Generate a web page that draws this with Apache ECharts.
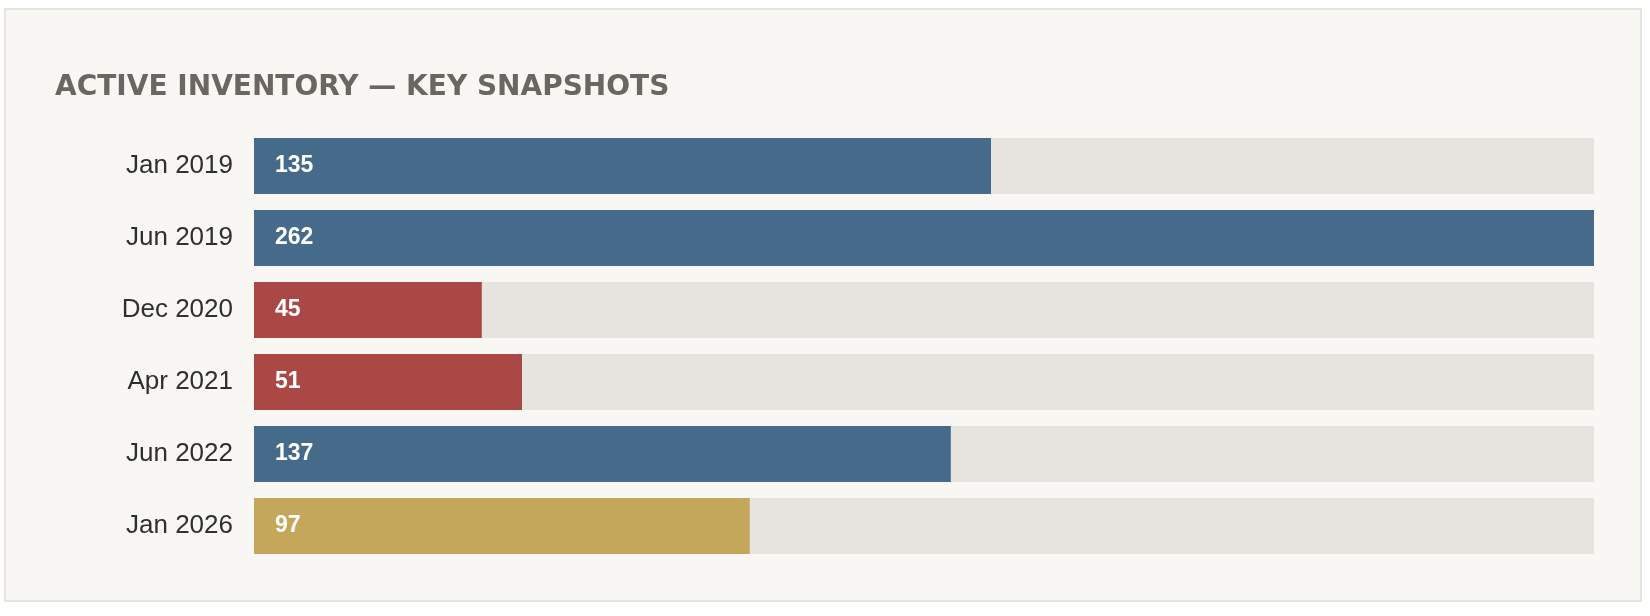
<!DOCTYPE html>
<html>
<head>
<meta charset="utf-8">
<script src="https://cdn.jsdelivr.net/npm/echarts@6/dist/echarts.min.js"></script>
<style>
html,body{margin:0;padding:0;background:#ffffff;}
#chart{width:1650px;height:616px;}
</style>
</head>
<body>
<div id="chart"></div>
<script>
const titleText = 'ACTIVE INVENTORY — KEY SNAPSHOTS';
const categories = ['Jan 2019', 'Jun 2019', 'Dec 2020', 'Apr 2021', 'Jun 2022', 'Jan 2026'];
const valueLabels = [135, 262, 45, 51, 137, 97];
const barWidthPct = [55, 100, 17, 20, 52, 37];
const trackPct = [100, 100, 100, 100, 100, 100];
const barColors = ['#466a89', '#466a89', '#aa4846', '#aa4846', '#466a89', '#c4a75b'];

const chart = echarts.init(document.getElementById('chart'));
chart.setOption({
  backgroundColor: '#ffffff',
  animation: false,
  graphic: [{
    type: 'rect', z: -10, silent: true,
    shape: { x: 5, y: 9, width: 1636, height: 592 },
    style: { fill: '#f8f7f4', stroke: '#e6e4df', lineWidth: 2 }
  }],
  title: {
    text: titleText,
    left: 50, top: 68,
    textStyle: {
      fontFamily: 'DejaVu Sans', fontWeight: 'bold', fontSize: 28,
      color: '#6b6661', lineHeight: 29
    }
  },
  grid: { left: 254, right: 56, top: 130, height: 432, containLabel: false },
  xAxis: { type: 'value', min: 0, max: 100, show: false },
  yAxis: {
    type: 'category', data: categories, inverse: true,
    axisLine: { show: false }, axisTick: { show: false }, splitLine: { show: false },
    axisLabel: { margin: 21, fontSize: 26, color: '#2f2f2f', fontFamily: 'Liberation Sans' }
  },
  series: [
    {
      type: 'bar', data: trackPct, barWidth: 56, barGap: '-100%', silent: true,
      itemStyle: { color: '#e7e4df' }, z: 1
    },
    {
      type: 'bar', barWidth: 56, z: 2,
      data: barWidthPct.map((v, i) => ({ value: v, itemStyle: { color: barColors[i] } })),
      label: {
        show: true, position: 'insideLeft', distance: 21,
        formatter: p => String(valueLabels[p.dataIndex]),
        color: '#ffffff', fontWeight: 'bold', fontSize: 23, fontFamily: 'Liberation Sans'
      }
    }
  ]
});
</script>
</body>
</html>
